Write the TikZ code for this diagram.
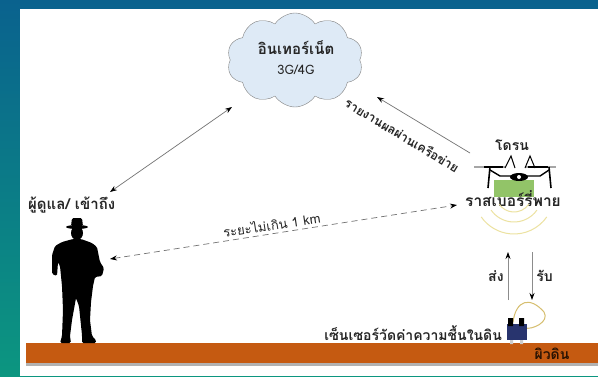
\documentclass[tikz,border=0pt]{standalone}
\usepackage{fontspec}
\newfontfamily\thai[Script=Thai]{Loma}
\usetikzlibrary{arrows.meta,shapes.symbols,positioning}
\definecolor{topblue}{RGB}{10,98,142}
\definecolor{midgreen}{RGB}{14,180,122}
\definecolor{lowteal}{RGB}{12,150,128}
\definecolor{cloudfill}{RGB}{222,234,246}
\definecolor{soil}{RGB}{197,90,17}
\definecolor{board}{RGB}{146,196,104}
\definecolor{wave}{RGB}{236,226,160}
\definecolor{cable}{RGB}{214,190,110}
\definecolor{sensorblue}{RGB}{40,52,110}
\tikzset{
  >={Stealth[length=7pt,width=5pt,color=black]},
  tlabel/.style={font=\thai\bfseries\fontsize{14}{16}\selectfont, text=black!85, inner sep=1pt},
  tsmall/.style={font=\thai\fontsize{13}{15}\selectfont, text=black!85, inner sep=1pt},
  link/.style={draw=black!55, line width=0.7pt},
  signal/.style={draw=black!45, line width=0.8pt, ->},
  wavearc/.style={draw=wave, line width=1pt}
}

\begin{document}
\begin{tikzpicture}[x=1pt,y=-1pt]
  \useasboundingbox (0,0) rectangle (598,376);

  % Backdrop and white sheet
  \shade[top color=topblue, middle color=midgreen, bottom color=lowteal] (0,0) rectangle (598,376);
  \fill[white] (20,9) rectangle (598,376);

  % Soil surface
  \fill[black!30] (26,363) rectangle (598,366);
  \fill[soil] (26,343) rectangle (598,363);
  \node[tlabel, text=black!80!soil] (surface) at (552,354) {ผิวดิน};

  % Internet cloud
  \node[cloud, cloud puffs=10, cloud puff arc=115, aspect=1.45, draw=black!50,
        fill=cloudfill, minimum width=136pt, minimum height=94pt] (net) at (295,60) {};
  \node[tlabel, font=\thai\bfseries\fontsize{15}{17}\selectfont] (nettitle) at (296,48) {อินเทอร์เน็ต};
  \node[tsmall, below=8pt of nettitle] (netgen) {3G/4G};

  % Caretaker
  \node[tlabel, anchor=west, font=\thai\bfseries\fontsize{15}{17}\selectfont] (carer) at (27,205) {ผู้ดูแล/ เข้าถึง};
  \fill[black] (71,226) [rounded corners=1.5pt] -- (72,218) -- (82,218) -- (83,226) -- cycle;
  \fill[black] (77,227) ellipse (11 and 2);
  \fill[black] (77,233) ellipse (6 and 7);
  \fill[black, rounded corners=1.5pt] (73,239) -- (81,239) -- (92,243) -- (97,247) -- (100,262)
    -- (104,268) -- (102,276) -- (95,277) -- (93,286) -- (91,302) -- (90,320) -- (92,336)
    -- (96,340) -- (96,343) -- (82,343) -- (82,335) -- (79,306) -- (76,298) -- (72,320)
    -- (70,336) -- (71,343) -- (60,343) -- (62,336) -- (63,310) -- (62,286) -- (60,266)
    -- (58,262) -- (57,276) -- (52,274) -- (52,255) -- (55,246) -- (62,242) -- cycle;

  % Drone carrying the board
  \node[tlabel] (drone) at (512,145) {โดรน};
  \fill[board] (494,180) rectangle (534,197);
  \draw[black!35, line width=2.5pt] (474,167) -- (505,167) (526,167) -- (556,167);
  \draw[black, line width=1.2pt] (484,167) -- (503,167) (528,167) -- (548,167);
  \draw[black, line width=1.6pt] (490,167) -- (488,188) (549,167) -- (551,188);
  \draw[black, line width=1.4pt] (490,170) -- (500,176) -- (540,176) -- (549,170);
  \draw[black, line width=1pt] (505,168) -- (511,156) -- (515,168) (525,168) -- (530,156) -- (535,168);
  \fill[black] (519,177) ellipse (9 and 4);
  \fill[white] (519,177) circle (2);
  \node[tlabel, font=\thai\bfseries\fontsize{15.5}{17}\selectfont] (board) at (513,199) {ราสเบอร์รี่พาย};

  % Radio waves below the board
  \foreach \r in {18,28,40}
    \draw[wavearc] (514,194) ++(35:\r) arc (35:145:\r);

  % Soil moisture sensor
  \draw[cable, line width=1pt] (513,322) .. controls (516,300) and (530,296) .. (544,312)
    .. controls (550,322) and (532,330) .. (525,328);
  \fill[white!80!black] (510,338) rectangle (513,344) (520,338) rectangle (523,344);
  \fill[sensorblue] (507,324) rectangle (527,340);
  \fill[black] (508,318) rectangle (513,326) (519,318) rectangle (524,326);
  \node[tlabel, anchor=east] (sensor) at (503,333) {เซ็นเซอร์วัดค่าความชื้นในดิน};

  % Uplink between sensor and board
  \coordinate (sendfrom) at (508,300);
  \coordinate (sendto) at (508,252);
  \coordinate (recvfrom) at (532,252);
  \coordinate (recvto) at (532,300);
  \draw[signal] (sendfrom) -- (sendto) node[tlabel, midway, left=3pt] (send) {ส่ง};
  \draw[signal] (recvfrom) -- (recvto) node[tlabel, midway, right=3pt] (recv) {รับ};

  % Links to the network and to the caretaker
  \coordinate (reportto) at (377,97);
  \coordinate (reportfrom) at (470,153);
  \draw[link, <-] (reportto) -- (reportfrom)
    node[tlabel, pos=0.38, sloped, below=13pt, font=\thai\bfseries\fontsize{12.5}{14}\selectfont] (report) {รายงานผลผ่านเครือข่าย};
  \coordinate (accessto) at (232,107);
  \coordinate (accessfrom) at (110,192);
  \draw[link, <->] (accessfrom) -- (accessto);
  \coordinate (rangefrom) at (110,259);
  \coordinate (rangeto) at (457,205);
  \draw[link, <->, dashed, dash pattern=on 6pt off 4pt] (rangefrom) -- (rangeto)
    node[tsmall, pos=0.47, sloped, above=2pt] (range) {ระยะไม่เกิน 1 km};
\end{tikzpicture}
\end{document}
